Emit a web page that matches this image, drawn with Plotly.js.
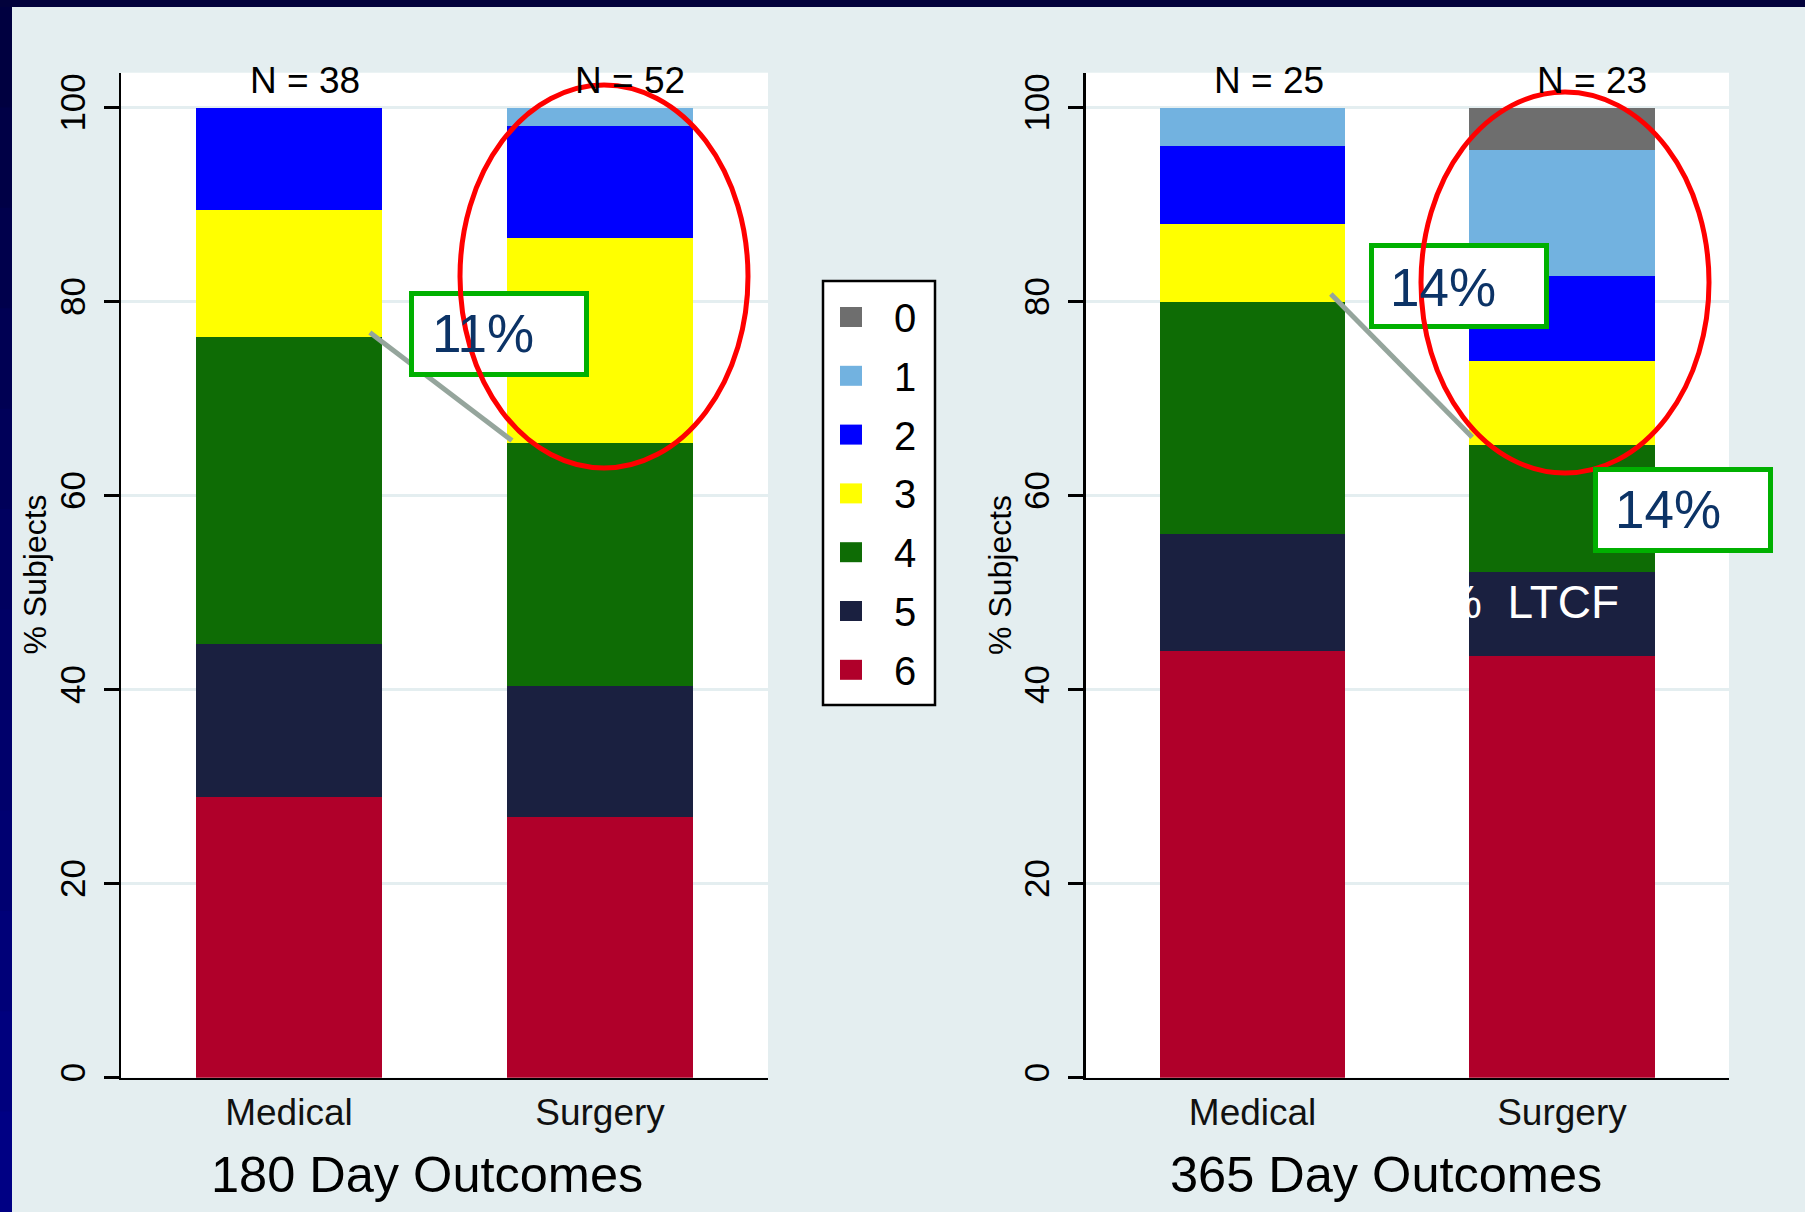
<!DOCTYPE html>
<html>
<head>
<meta charset="utf-8">
<script src="https://cdn.plot.ly/plotly-3.0.1.min.js"></script>
<style>html,body{margin:0;padding:0;background:#e4eef0;}#chart{width:1805px;height:1212px;}</style>
</head>
<body>
<div id="chart"></div>
<script>
// ---------- data ----------
const groups = ['Medical', 'Surgery'];
const levels = ['0', '1', '2', '3', '4', '5', '6'];
const levelColors = ['#6e6e6e', '#72b2e0', '#0000ff', '#ffff00', '#0e6c05', '#1a2040', '#b0002a'];

// percent of subjects in each level (order 0..6)
const day180Medical = [0, 0, 10.53, 13.16, 31.58, 15.79, 28.95];
const day180Surgery = [0, 1.92, 11.54, 21.15, 25.00, 13.46, 26.92];
const day365Medical = [0, 4.00, 8.00, 8.00, 24.00, 12.00, 44.00];
const day365Surgery = [4.35, 13.04, 8.70, 8.70, 13.04, 8.70, 43.48];

const nLabels180 = ['N = 38', 'N = 52'];
const nLabels365 = ['N = 25', 'N = 23'];
const panelTitles = ['180 Day Outcomes', '365 Day Outcomes'];
const yTickVals = [0, 20, 40, 60, 80, 100];
const yTitle = '% Subjects';
const calloutTexts = ['11%', '14%', '14%'];
const ltcfText = '%  LTCF';

// ---------- helpers ----------
const W = 1805, H = 1212;
const px = v => v / W;
const py = v => 1 - v / H;
const FONT = 'Liberation Sans, Arial, sans-serif';

const panels = [
  {med: day180Medical, surg: day180Surgery, xa: 'x', ya: 'y', n: nLabels180},
  {med: day365Medical, surg: day365Surgery, xa: 'x2', ya: 'y2', n: nLabels365}
];

const traces = [];
panels.forEach(p => {
  for (let i = levels.length - 1; i >= 0; i--) {
    traces.push({
      type: 'bar',
      x: groups,
      y: [p.med[i], p.surg[i]],
      name: levels[i],
      xaxis: p.xa, yaxis: p.ya,
      width: 0.6,
      marker: {color: levelColors[i], line: {width: 0}},
      showlegend: false,
      hoverinfo: 'skip'
    });
  }
});

// cumulative height of levels 6,5,4 (top of the "4" segment)
const cumTo4 = arr => arr[6] + arr[5] + arr[4];

const axisX = dom => ({
  domain: dom, range: [-0.54, 1.54], type: 'category',
  showline: true, linecolor: '#000', linewidth: 2.5,
  ticks: '', showgrid: false, zeroline: false,
  tickfont: {family: FONT, size: 37, color: '#111'},
  ticklabelstandoff: 0, fixedrange: true
});
const axisY = () => ({
  domain: [0.1108, 0.9400], range: [0, 103.6],
  tickvals: yTickVals, ticktext: yTickVals.map(String),
  showline: true, linecolor: '#000', linewidth: 2.5,
  ticks: 'outside', ticklen: 15, tickwidth: 2.5, tickcolor: '#000',
  tickangle: -90, tickfont: {family: FONT, size: 35, color: '#000'},
  ticklabelstandoff: 5,
  showgrid: true, gridcolor: '#e4eef0', gridwidth: 2.5,
  zeroline: false, fixedrange: true
});

const shapes = [];
const annotations = [];

// slide frame (top bar + left strip with gradient)
const segs = 12;
for (let s = 0; s < segs; s++) {
  const t = s / (segs - 1);
  const b = Math.round(0x40 + t * (0x84 - 0x40));
  const col = 'rgb(0,0,' + b + ')';
  shapes.push({type: 'rect', xref: 'paper', yref: 'paper', x0: 0, x1: px(12),
    y0: Math.max(0, py(7 + (s + 1) * (H - 7) / segs + 1)), y1: py(7 + s * (H - 7) / segs),
    fillcolor: col, line: {width: 0}, layer: 'above'});
}
shapes.push({type: 'rect', xref: 'paper', yref: 'paper', x0: 0, x1: 1, y0: py(7), y1: 1,
  fillcolor: '#02023c', line: {width: 0}, layer: 'above'});

// connector lines (gray) between tops of level-4 segments
shapes.push({type: 'line', xref: 'x', yref: 'y', x0: 0.26, x1: 0.717,
  y0: cumTo4(day180Medical) + 0.5, y1: cumTo4(day180Surgery) + 0.3,
  line: {color: '#95a59c', width: 5}});
shapes.push({type: 'line', xref: 'x2', yref: 'y2', x0: 0.253, x1: 0.71,
  y0: cumTo4(day365Medical) + 0.8, y1: cumTo4(day365Surgery) + 0.8,
  line: {color: '#95a59c', width: 5}});

// callout boxes
const boxes = [
  {x0: 409, x1: 589, y0: 291, y1: 377, tx: 483, ty: 333},
  {x0: 1369, x1: 1549, y0: 243, y1: 329, tx: 1443, ty: 287},
  {x0: 1593, x1: 1773, y0: 467, y1: 553, tx: 1668, ty: 510}
];
const boxShape = b => ({type: 'rect', xref: 'paper', yref: 'paper',
  x0: px(b.x0 + 2.5), x1: px(b.x1 - 2.5), y0: py(b.y1 - 2.5), y1: py(b.y0 + 2.5),
  fillcolor: '#ffffff', line: {color: '#00b000', width: 5}});
shapes.push(boxShape(boxes[0]));
shapes.push(boxShape(boxes[1]));

// red ellipses
shapes.push({type: 'circle', xref: 'paper', yref: 'paper',
  x0: px(460), x1: px(748), y0: py(468), y1: py(85), line: {color: '#ff0000', width: 5}});
shapes.push({type: 'circle', xref: 'paper', yref: 'paper',
  x0: px(1421), x1: px(1709), y0: py(473), y1: py(92), line: {color: '#ff0000', width: 5}});

shapes.push(boxShape(boxes[2]));

// legend box and swatches
const legL = 823, legR = 935, legT = 281, legB = 705;
shapes.push({type: 'rect', xref: 'paper', yref: 'paper', x0: px(legL), x1: px(legR), y0: py(legB), y1: py(legT),
  fillcolor: '#ffffff', line: {color: '#000', width: 2.5}});
levels.forEach((lv, i) => {
  const cy = 317 + i * 58.8;
  shapes.push({type: 'rect', xref: 'paper', yref: 'paper',
    x0: px(840), x1: px(862), y0: py(cy + 10), y1: py(cy - 10),
    fillcolor: levelColors[i], line: {width: 0}});
  annotations.push({xref: 'paper', yref: 'paper', x: px(892), y: py(cy + 1), xanchor: 'left', yanchor: 'middle',
    text: lv, showarrow: false, font: {family: FONT, size: 40, color: '#000'}});
});

// N labels
const nShift = [16, 30];
panels.forEach(p => {
  groups.forEach((g, j) => {
    annotations.push({xref: p.xa, yref: 'paper', x: j, xshift: nShift[j], y: py(80),
      yanchor: 'middle', xanchor: 'center', text: p.n[j], showarrow: false,
      font: {family: FONT, size: 37, color: '#000'}});
  });
});

// panel titles and y titles
const titleX = [427, 1386];
const yTitleX = [34.5, 1000];
panelTitles.forEach((t, k) => {
  annotations.push({xref: 'paper', yref: 'paper', x: px(titleX[k]), y: py(1174), xanchor: 'center', yanchor: 'middle',
    text: t, showarrow: false, font: {family: FONT, size: 50.5, color: '#000'}});
  annotations.push({xref: 'paper', yref: 'paper', x: px(yTitleX[k]), y: py(575), xanchor: 'center', yanchor: 'middle',
    text: yTitle, textangle: -90, showarrow: false, font: {family: FONT, size: 32, color: '#000'}});
});

// callout texts
boxes.forEach((b, k) => {
  annotations.push({xref: 'paper', yref: 'paper', x: px(b.tx), y: py(b.ty), xanchor: 'center', yanchor: 'middle',
    text: calloutTexts[k], showarrow: false, font: {family: FONT, size: 53, color: '#0c3366'}});
});

// white LTCF text on the navy segment
annotations.push({xref: 'paper', yref: 'paper', x: px(1621), y: py(602), xanchor: 'right', yanchor: 'middle',
  text: ltcfText, showarrow: false, font: {family: FONT, size: 46, color: '#ffffff'}});

const layout = {
  width: W, height: H,
  margin: {l: 0, r: 0, t: 0, b: 0, pad: 0},
  paper_bgcolor: '#e4eef0', plot_bgcolor: '#ffffff',
  barmode: 'stack', bargap: 0,
  showlegend: false,
  font: {family: FONT},
  xaxis: Object.assign(axisX([121 / W, 768 / W]), {anchor: 'y'}),
  yaxis: Object.assign(axisY(), {anchor: 'x'}),
  xaxis2: Object.assign(axisX([1085.5 / W, 1729 / W]), {anchor: 'y2'}),
  yaxis2: Object.assign(axisY(), {anchor: 'x2'}),
  shapes: shapes,
  annotations: annotations
};

Plotly.newPlot('chart', traces, layout, {staticPlot: true, displayModeBar: false});
</script>
</body>
</html>
